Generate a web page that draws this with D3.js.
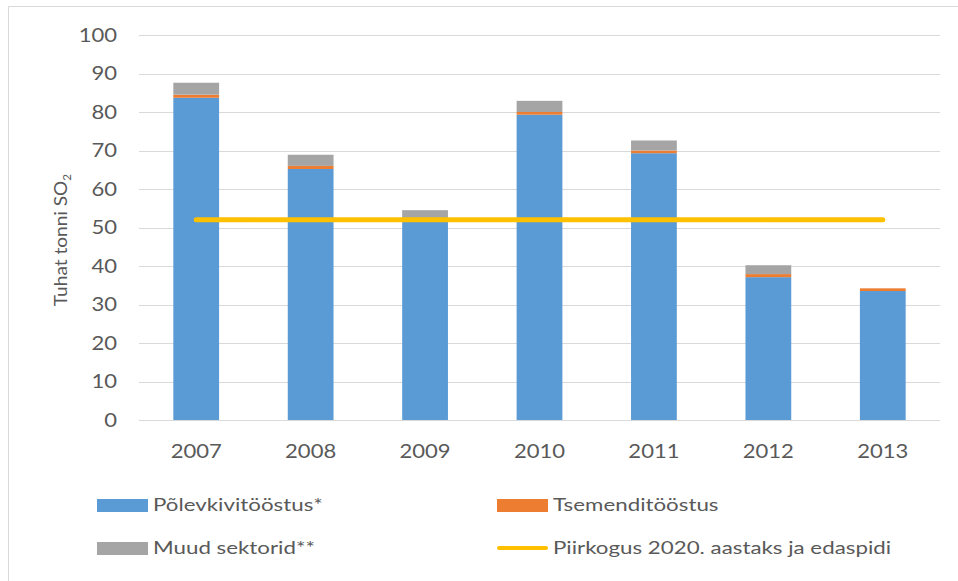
<!DOCTYPE html>
<html><head><meta charset="utf-8">
<script src="https://cdn.jsdelivr.net/npm/d3@7"></script>
<style>
html,body{margin:0;padding:0;background:#fff;}
svg{display:block;font-family:Lato,"Open Sans",sans-serif;}
</style></head>
<body>
<svg id="c" width="958" height="581"></svg>
<script>
const years = ["2007","2008","2009","2010","2011","2012","2013"];
const polevkivi = [83.7, 65.2, 51.8, 79.3, 69.3, 37.1, 33.5];
const tsement = [0.8, 0.8, 0.6, 0.7, 0.7, 0.8, 0.7];
const muud = [3.1, 2.9, 2.1, 2.9, 2.6, 2.3, 0];
const piirkogus = 52;
const yTicks = [0,10,20,30,40,50,60,70,80,90,100];
const seriesNames = ["Põlevkivitööstus*","Tsemenditööstus","Muud sektorid**"];
const lineName = "Piirkogus 2020. aastaks ja edaspidi";
const colors = ["#5B9BD5","#ED7D31","#A5A5A5"];
const lineColor = "#FFC000";

const svg = d3.select("#c");
const x = d3.scaleBand().domain(years).range([139,940]).paddingInner(0.6).paddingOuter(0.3);
const y = d3.scaleLinear().domain([0,100]).range([420,35]);
const textColor = "#595959";

// outer border
svg.append("path").attr("d","M8.5,581 L8.5,6.5 L958,6.5").attr("fill","none").attr("stroke","#d9d9d9").attr("stroke-width",1);

// gridlines
svg.append("g").selectAll("line").data(yTicks).join("line")
  .attr("x1",139).attr("x2",940)
  .attr("y1",d=>Math.round(y(d))+0.5).attr("y2",d=>Math.round(y(d))+0.5)
  .attr("stroke","#d9d9d9").attr("stroke-width",1);

// y axis labels
const yAxis = d3.axisLeft(y).tickValues(yTicks).tickSize(0).tickPadding(0);
const ga = svg.append("g").attr("transform","translate(117,0)").call(yAxis);
ga.select(".domain").remove();
ga.selectAll("text").attr("font-size",19).attr("fill",textColor)
  .attr("font-family","Lato,'Open Sans',sans-serif").attr("transform","scale(1.16,1)");

// x axis labels
const xAxis = d3.axisBottom(x).tickSize(0).tickPadding(0);
const gx = svg.append("g").attr("transform","translate(0,445)").call(xAxis);
gx.select(".domain").remove();
gx.selectAll("text").attr("font-size",19).attr("fill",textColor)
  .attr("font-family","Lato,'Open Sans',sans-serif").attr("transform","scale(1.16,1)");

// stacked bars
const rows = years.map((yr,i)=>({year:yr, a:polevkivi[i], b:tsement[i], c:muud[i]}));
const stack = d3.stack().keys(["a","b","c"])(rows);
svg.append("g").selectAll("g").data(stack).join("g")
  .attr("fill",(d,i)=>colors[i])
  .selectAll("rect").data(d=>d).join("rect")
  .attr("x",d=>x(d.data.year))
  .attr("width",x.bandwidth())
  .attr("y",d=>y(d[1]))
  .attr("height",d=>Math.max(0,y(d[0])-y(d[1])));

// limit line
svg.append("line")
  .attr("x1",x(years[0])+x.bandwidth()/2)
  .attr("x2",x(years[years.length-1])+x.bandwidth()/2)
  .attr("y1",y(piirkogus)).attr("y2",y(piirkogus))
  .attr("stroke",lineColor).attr("stroke-width",5).attr("stroke-linecap","round");

// y axis title
const t = svg.append("text")
  .attr("transform","translate(67,240) rotate(-90) scale(1.06,1)")
  .attr("text-anchor","middle")
  .attr("font-size",18).attr("fill",textColor);
t.append("tspan").text("Tuhat tonni SO");
t.append("tspan").text("2").attr("font-size",11).attr("dy",4);

// legend
const legendItems = [
  {name:seriesNames[0], color:colors[0], type:"rect", x:97, y:505},
  {name:seriesNames[1], color:colors[1], type:"rect", x:497, y:505},
  {name:seriesNames[2], color:colors[2], type:"rect", x:97, y:548},
  {name:lineName, color:lineColor, type:"line", x:497, y:548}
];
const lg = svg.append("g").selectAll("g").data(legendItems).join("g")
  .attr("transform",d=>`translate(${d.x},${d.y})`);
lg.filter(d=>d.type==="rect").append("rect")
  .attr("x",0).attr("y",-6).attr("width",51).attr("height",13).attr("fill",d=>d.color);
lg.filter(d=>d.type==="line").append("line")
  .attr("x1",2).attr("x2",49).attr("y1",0).attr("y2",0)
  .attr("stroke",d=>d.color).attr("stroke-width",4).attr("stroke-linecap","round");
lg.append("text").attr("transform","translate(56,0) scale(1.24,1)").attr("dy","0.35em")
  .attr("font-size",18).attr("fill",textColor).text(d=>d.name);
</script>
</body></html>
